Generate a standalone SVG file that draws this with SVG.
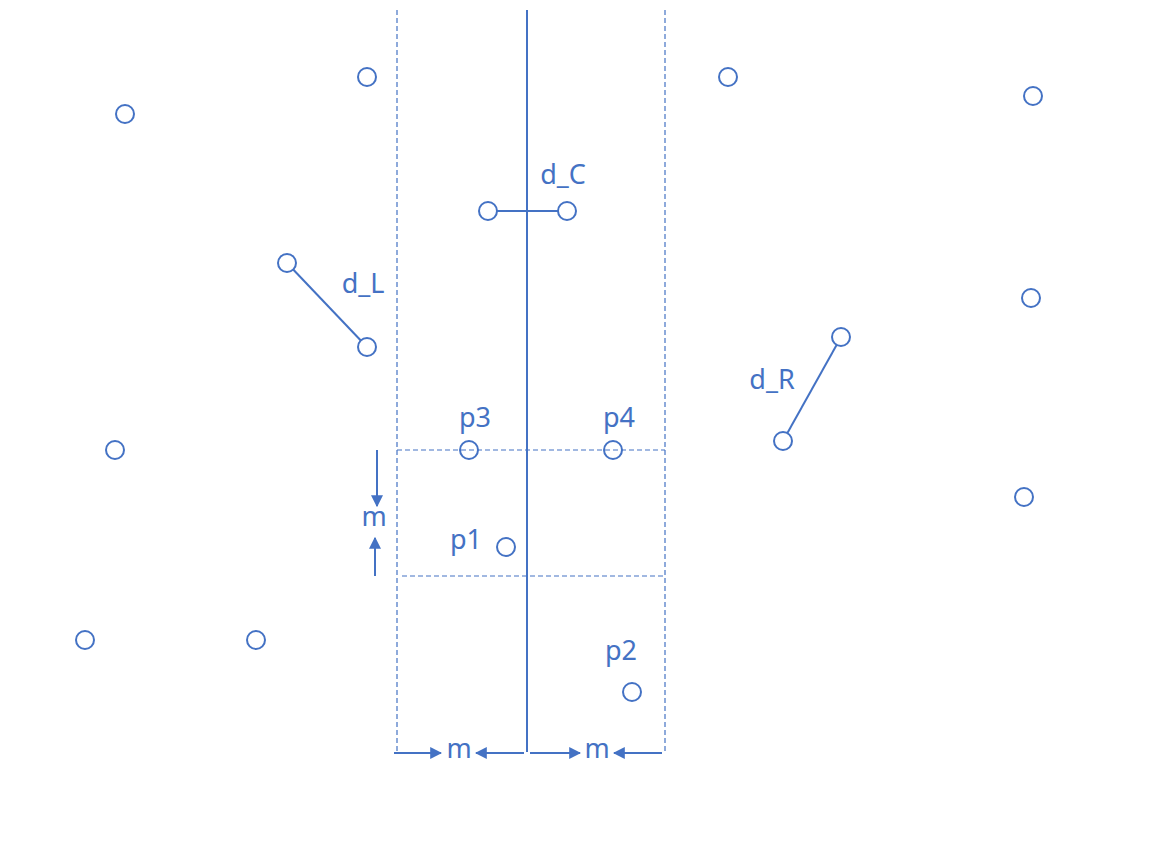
<svg xmlns="http://www.w3.org/2000/svg" width="1170" height="862" viewBox="0 0 1170 862">
<defs>
<style>
.pt{fill:none;stroke:#4472C4;stroke-width:2}
.ln{stroke:#4472C4;stroke-width:2;fill:none}
.dash{stroke:#4472C4;stroke-width:1.2;stroke-dasharray:5 3;fill:none}
.lbl{font-family:"Noto Sans","Open Sans",sans-serif;font-size:27px;fill:#4472C4;text-anchor:middle}
</style>
<marker id="ah" viewBox="0 0 10 10" refX="9" refY="5" markerWidth="6" markerHeight="6" orient="auto" markerUnits="strokeWidth"><path d="M0,0 L10,5 L0,10 z" fill="#4472C4"/></marker>
</defs>
<rect width="1170" height="862" fill="#fff"/>
<g id="connectors">
<line class="dash" x1="397" y1="10" x2="397" y2="752"/>
<line class="dash" x1="665" y1="10" x2="665" y2="752"/>
<line class="dash" x1="397" y1="450" x2="665" y2="450"/>
<line class="dash" x1="402" y1="576" x2="665" y2="576"/>
<line class="ln" x1="527" y1="10" x2="527" y2="752"/>
<line class="ln" x1="497" y1="211" x2="558" y2="211"/>
<line class="ln" x1="293.2" y1="269.5" x2="360.8" y2="340.5"/>
<line class="ln" x1="836.6" y1="344.9" x2="787.4" y2="433.1"/>
<line class="ln" x1="377" y1="450" x2="377" y2="506" marker-end="url(#ah)"/>
<line class="ln" x1="375" y1="576" x2="375" y2="538" marker-end="url(#ah)"/>
<line class="ln" x1="394" y1="753" x2="441" y2="753" marker-end="url(#ah)"/>
<line class="ln" x1="524" y1="753" x2="476" y2="753" marker-end="url(#ah)"/>
<line class="ln" x1="530" y1="753" x2="580" y2="753" marker-end="url(#ah)"/>
<line class="ln" x1="662" y1="753" x2="614" y2="753" marker-end="url(#ah)"/>
</g>
<g id="points">
<circle class="pt" cx="125" cy="114" r="9"/>
<circle class="pt" cx="367" cy="77" r="9"/>
<circle class="pt" cx="728" cy="77" r="9"/>
<circle class="pt" cx="1033" cy="96" r="9"/>
<circle class="pt" cx="488" cy="211" r="9"/>
<circle class="pt" cx="567" cy="211" r="9"/>
<circle class="pt" cx="287" cy="263" r="9"/>
<circle class="pt" cx="367" cy="347" r="9"/>
<circle class="pt" cx="1031" cy="298" r="9"/>
<circle class="pt" cx="841" cy="337" r="9"/>
<circle class="pt" cx="783" cy="441" r="9"/>
<circle class="pt" cx="115" cy="450" r="9"/>
<circle class="pt" cx="1024" cy="497" r="9"/>
<circle class="pt" cx="85" cy="640" r="9"/>
<circle class="pt" cx="256" cy="640" r="9"/>
</g>
<g id="p1"><circle class="pt" cx="506" cy="547" r="9"/><text class="lbl" x="466" y="549">p1</text></g>
<g id="p2"><circle class="pt" cx="632" cy="692" r="9"/><text class="lbl" x="621" y="660">p2</text></g>
<g id="p3"><circle class="pt" cx="469" cy="450" r="9"/><text class="lbl" x="475" y="427">p3</text></g>
<g id="p4"><circle class="pt" cx="613" cy="450" r="9"/><text class="lbl" x="619" y="427">p4</text></g>
<g id="labels">
<text class="lbl" x="563" y="184">d_C</text>
<text class="lbl" x="363" y="293">d_L</text>
<text class="lbl" x="772" y="389">d_R</text>
<text class="lbl" x="374" y="526">m</text>
<text class="lbl" x="459" y="758">m</text>
<text class="lbl" x="597" y="758">m</text>
</g>
</svg>
